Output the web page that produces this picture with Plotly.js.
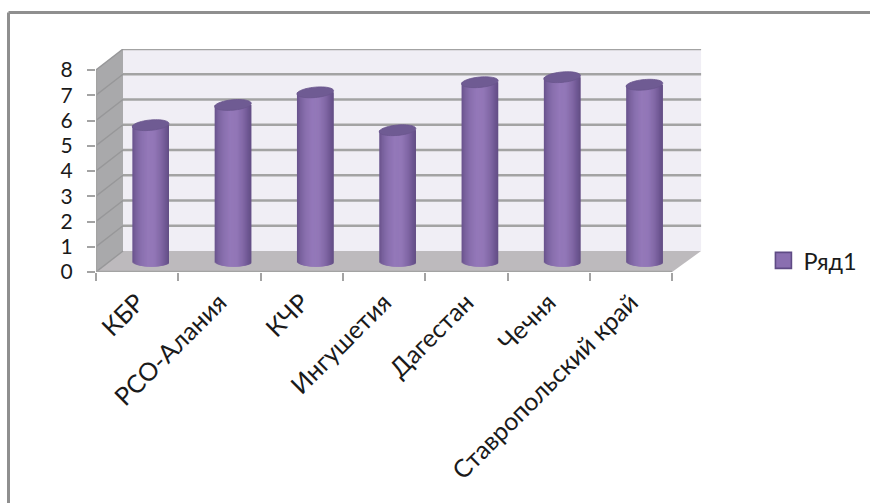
<!DOCTYPE html>
<html>
<head>
<meta charset="utf-8">
<script src="https://cdn.plot.ly/plotly-3.0.0.min.js"></script>
<style>html,body{margin:0;padding:0;background:#fff}#chart{width:870px;height:503px}</style>
</head>
<body>
<div id="chart"></div>
<script>
// Regional values drawn as 3D-style cylinders on a box with floor and walls
const regions = ['КБР', 'РСО-Алания', 'КЧР', 'Ингушетия', 'Дагестан', 'Чечня', 'Ставропольский край'];
const seriesValues = [5.4, 6.2, 6.7, 5.2, 7.1, 7.3, 7.0];
const seriesName = 'Ряд1';
const valueTicks = [0, 1, 2, 3, 4, 5, 6, 7, 8];

// Shading across a cylinder from its left edge to its right edge
const shadeStops = [
  [-1.0, [104, 82, 140]], [-0.8, [122, 98, 158]], [-0.5, [138, 112, 175]],
  [-0.15, [148, 120, 185]], [0.2, [146, 119, 183]], [0.55, [130, 104, 166]],
  [0.8, [112, 88, 148]], [1.0, [98, 78, 132]]
];

// Box geometry in axis units: the box recedes up and to the right
const plotW = 606, plotH = 223;
const catPx = 82.3, valPx = 25.25;
const depthX = 27 / catPx, depthY = 21 / valPx, flare = 2 / catPx;
const midX = depthX / 2, midY = depthY / 2;
const radX = 18.3 / catPx, radY = 5.2 / valPx, capTilt = 1.6 / valPx;

const xMin = -0.5, xMax = 6.5, yMax = 8;
const farRight = xMax + depthX + flare;
const fontFamily = 'Lato, "Noto Sans", sans-serif';

function poly(points) {
  return 'M' + points.map(p => p[0] + ',' + p[1]).join('L') + 'Z';
}
function shadeAt(t) {
  for (let i = 1; i < shadeStops.length; i++) {
    const a = shadeStops[i - 1], b = shadeStops[i];
    if (t <= b[0]) {
      const k = (t - a[0]) / (b[0] - a[0]);
      const c = a[1].map((v, j) => Math.round(v + (b[1][j] - v) * k));
      return 'rgb(' + c.join(',') + ')';
    }
  }
  return 'rgb(' + shadeStops[shadeStops.length - 1][1].join(',') + ')';
}

const shapes = [];
const wall = {type: 'path', xref: 'x', yref: 'y', layer: 'below', line: {width: 0}};

// Back wall, side wall and floor
shapes.push(Object.assign({}, wall, {fillcolor: '#f0eef5',
  path: poly([[xMin + depthX, depthY], [farRight, depthY], [farRight, yMax + depthY], [xMin + depthX, yMax + depthY]])}));
shapes.push(Object.assign({}, wall, {fillcolor: '#a9a9ab',
  path: poly([[xMin, 0], [xMin + depthX, depthY], [xMin + depthX, yMax + depthY], [xMin, yMax]])}));
shapes.push(Object.assign({}, wall, {fillcolor: '#bdbabd',
  path: poly([[xMin, 0], [xMax, 0], [farRight, depthY], [xMin + depthX, depthY]])}));

// Gridlines along the back wall with their diagonals on the side wall
valueTicks.forEach(v => {
  if (v > 0) {
    shapes.push({type: 'line', xref: 'x', yref: 'y', layer: 'below', line: {width: 2.4, color: '#a3a3a3'},
      x0: xMin + depthX, x1: farRight, y0: v + depthY, y1: v + depthY});
  }
  shapes.push({type: 'line', xref: 'x', yref: 'y', layer: 'below', line: {width: 1.4, color: '#979799'},
    x0: xMin, x1: xMin + depthX, y0: v, y1: v + depthY});
});

// Front edges of the box
const edge = {width: 2.4, color: '#a3a3a3'};
shapes.push({type: 'line', xref: 'x', yref: 'y', layer: 'below', line: edge, x0: xMin, x1: xMin, y0: 0, y1: yMax});
shapes.push({type: 'line', xref: 'x', yref: 'y', layer: 'below', line: edge, x0: xMin, x1: xMax, y0: 0, y1: 0});

// Cap of each cylinder, placed at its value on the mid-depth plane
seriesValues.forEach((v, i) => {
  const pts = [];
  for (let k = 0; k < 48; k++) {
    const a = k / 48 * 2 * Math.PI;
    pts.push([i + midX + radX * Math.cos(a), v + midY + radY * Math.sin(a) + capTilt * Math.cos(a)]);
  }
  shapes.push({type: 'path', xref: 'x', yref: 'y', layer: 'above', fillcolor: '#6f5b93',
    line: {width: 0.8, color: '#6a558d'}, path: poly(pts)});
});

// Page frame
const frame = {type: 'line', xref: 'paper', yref: 'paper', line: {width: 3, color: '#8f8f8f'}};
shapes.push(Object.assign({}, frame, {x0: -87.5 / plotW, x1: 774 / plotW, y0: 1 + 36.5 / plotH, y1: 1 + 36.5 / plotH}));
shapes.push(Object.assign({}, frame, {x0: -87.5 / plotW, x1: -87.5 / plotW, y0: 1 + 36.5 / plotH, y1: -233 / plotH}));

// Each cylinder body is a row of overlapping bars painted left to right, whose
// lower ends follow the curve of the base
const strips = 37;
const step = 2 * radX / strips;
const traces = [];
for (let s = 0; s < strips; s++) {
  const left = -radX + s * step;
  const t = (left + step / 2) / radX;
  const drop = radY * Math.sqrt(Math.max(0, 1 - t * t));
  const w = Math.min(step * 2.5, radX - left);
  traces.push({
    type: 'bar', x: regions,
    y: seriesValues.map(v => v + drop),
    base: seriesValues.map(() => midY - drop),
    width: seriesValues.map(() => w),
    offset: seriesValues.map(() => midX + left),
    marker: {color: shadeAt(t), line: {width: 0}},
    hoverinfo: 'skip', showlegend: false
  });
}

// Legend entry for the series
traces.push({
  type: 'scatter', mode: 'markers', x: regions, y: regions.map(() => null), name: seriesName,
  marker: {symbol: 'square', size: 16, color: '#8a6fb0', line: {width: 1.6, color: '#5f4b85'}}
});

const layout = {
  width: 870, height: 503,
  margin: {l: 96, r: 168, t: 49, b: 231, pad: 0},
  paper_bgcolor: '#ffffff', plot_bgcolor: '#ffffff',
  font: {family: fontFamily, color: '#1a1a1a'},
  barmode: 'overlay', showlegend: true,
  legend: {xref: 'container', yref: 'container', x: 0.8775, y: 0.482, xanchor: 'left', yanchor: 'middle',
    font: {size: 23.5, family: fontFamily}, bgcolor: 'rgba(0,0,0,0)', itemwidth: 30},
  xaxis: {
    type: 'category', categoryorder: 'array', categoryarray: regions,
    range: [xMin, xMin + plotW / catPx], autorange: false, fixedrange: true,
    tickson: 'boundaries', ticks: 'outside', ticklen: 8, tickwidth: 2, tickcolor: '#a3a3a3',
    tickangle: -45, tickfont: {size: 25}, ticklabelstandoff: 10, showgrid: false, showline: false, zeroline: false
  },
  yaxis: {
    type: 'linear', range: [0, plotH / valPx], autorange: false, fixedrange: true,
    tickmode: 'array', tickvals: valueTicks, ticktext: valueTicks.map(String),
    ticks: 'outside', ticklen: 8, tickwidth: 2, tickcolor: '#a3a3a3', ticklabelstandoff: 10,
    tickfont: {size: 21}, showgrid: false, showline: false, zeroline: false
  },
  shapes: shapes
};

Plotly.newPlot('chart', traces, layout, {displayModeBar: false, staticPlot: true});
</script>
</body>
</html>
